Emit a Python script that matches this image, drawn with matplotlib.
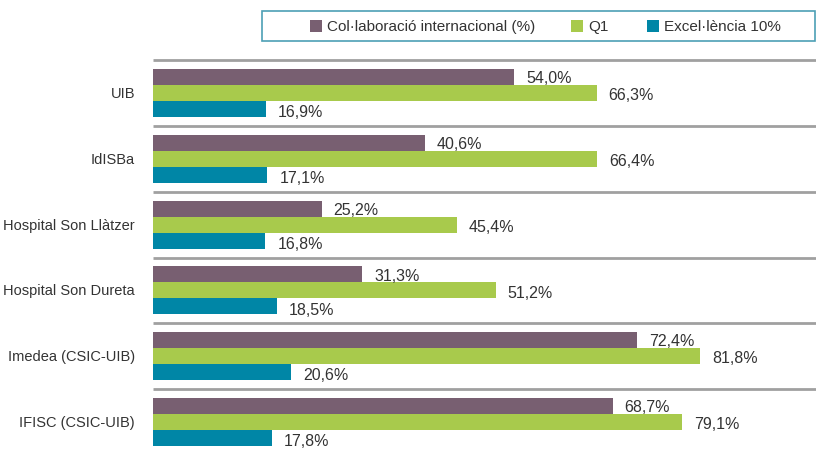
import matplotlib
matplotlib.use("Agg")
import matplotlib.pyplot as plt
from matplotlib.patches import Rectangle

plt.rcParams['font.family'] = ['Liberation Sans', 'DejaVu Sans']

categories = ["UIB", "IdISBa", "Hospital Son Llàtzer", "Hospital Son Dureta",
              "Imedea (CSIC-UIB)", "IFISC (CSIC-UIB)"]
series_names = ["Col·laboració internacional (%)", "Q1", "Excel·lència 10%"]
collab = [54.0, 40.6, 25.2, 31.3, 72.4, 68.7]
q1 = [66.3, 66.4, 45.4, 51.2, 81.8, 79.1]
excel = [16.9, 17.1, 16.8, 18.5, 20.6, 17.8]
colors = ["#785f71", "#a8ca4c", "#0086a6"]

W, H = 816, 456
fig = plt.figure(figsize=(W/100, H/100), dpi=100)
ax = fig.add_axes([153/W, 0, 1 - 153/W, 1 - 61/H])
ax.set_xlim(0, (W - 153) / 6.69)
ax.set_ylim(6, 0)
ax.axis("off")

bh = 16/66
txtcol = "#333333"
for s, (vals, c) in enumerate(zip([collab, q1, excel], colors)):
    ys = [i + 0.5 + (s - 1) * bh for i in range(len(categories))]
    ax.barh(ys, vals, height=bh, color=c, edgecolor="none")
    for y, v in zip(ys, vals):
        ax.text(v + 1.8, y + 0.01 + 0.015 * s, f"{v:.1f}%".replace(".", ","),
                va="center", ha="left", fontsize=11.5, color=txtcol)

for i in range(len(categories)):
    ax.plot([0, 100], [i, i], color="#a0a0a0", lw=2, clip_on=False,
            solid_capstyle="butt")
    ax.text(-2.7, i + 0.5, categories[i], ha="right", va="center",
            fontsize=10.5, color=txtcol)

# legend box
fig.patches.append(Rectangle((262/W, 1 - 42/H), (W - 263)/W, 30/H,
                             transform=fig.transFigure, facecolor="white",
                             edgecolor="#4d9fb5", lw=1.2))
items = [(310, 327), (571, 588), (647, 664)]
for (mx, tx), name, c in zip(items, series_names, colors):
    fig.patches.append(Rectangle((mx/W, 1 - 33/H), 12/W, 12/H,
                                 transform=fig.transFigure, facecolor=c,
                                 edgecolor="none"))
    fig.text(tx/W, 1 - 27/H, name, ha="left", va="center", fontsize=11,
             color=txtcol)

fig.savefig("out.png", dpi=100)
